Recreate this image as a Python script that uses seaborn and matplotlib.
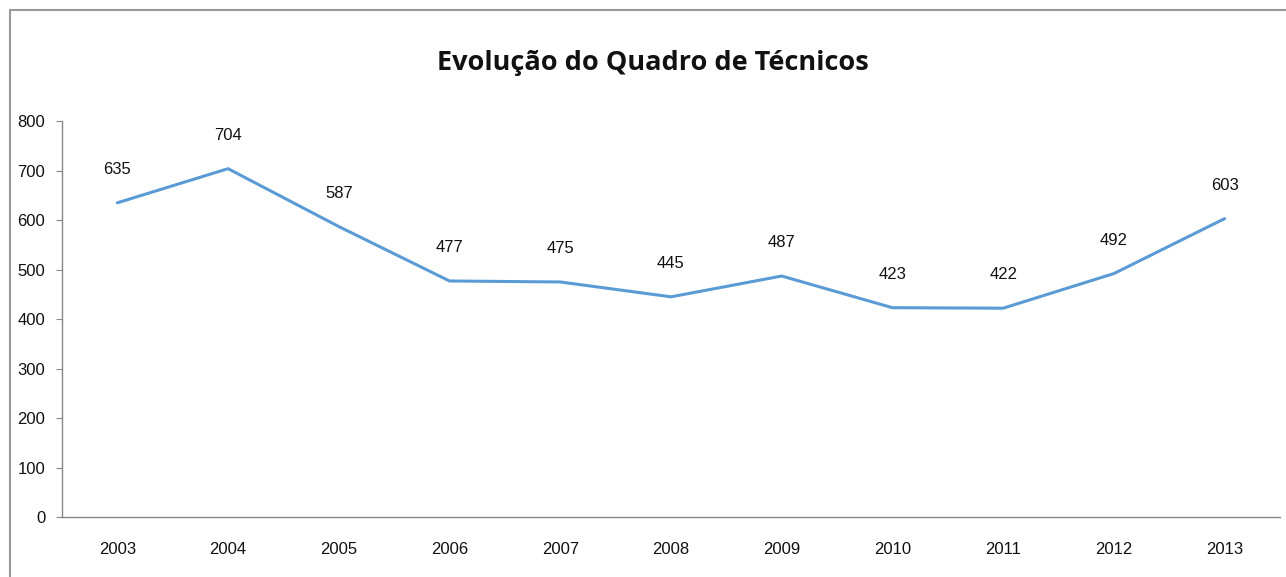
import matplotlib
matplotlib.use("Agg")
import matplotlib.pyplot as plt
import seaborn as sns
import pandas as pd
from matplotlib.lines import Line2D

# dados do grafico
anos = ["2003", "2004", "2005", "2006", "2007", "2008", "2009", "2010", "2011", "2012", "2013"]
tecnicos = [635, 704, 587, 477, 475, 445, 487, 423, 422, 492, 603]
titulo = "Evolução do Quadro de Técnicos"

df = pd.DataFrame({"ano": anos, "tecnicos": tecnicos})

sns.set_style("white")
plt.rcParams["font.family"] = ["Liberation Sans", "DejaVu Sans"]

fig = plt.figure(figsize=(12.86, 5.77), dpi=100)
ax = fig.add_axes([0.0482, 0.104, 0.9471, 0.686])

sns.lineplot(ax=ax, data=df, x="ano", y="tecnicos", color="#5B9BD5", linewidth=2.2)

# rotulos dos valores
for i, v in enumerate(tecnicos):
    ax.annotate(str(v), (i, v), xytext=(0, 24), textcoords="offset points",
                ha="center", va="center", fontsize=12, color="#111111")

ax.set_xlim(-0.5, len(anos) - 0.5)
ax.set_ylim(0, 800)
ax.set_yticks(range(0, 801, 100))
ax.set_xticks(range(len(anos)))
ax.set_xticklabels(anos)
ax.set_xticks([i - 0.5 for i in range(len(anos) + 1)], minor=True)
ax.tick_params(axis="x", which="major", length=0, pad=18, labelsize=12, labelcolor="#111111")
ax.tick_params(axis="x", which="minor", length=4, color="#888888", direction="out")
ax.tick_params(axis="y", length=4, color="#888888", direction="out", pad=8, labelsize=12,
               labelcolor="#111111", left=True)
ax.set_xlabel("")
ax.set_ylabel("")

for s in ["top", "right"]:
    ax.spines[s].set_visible(False)
for s in ["left", "bottom"]:
    ax.spines[s].set_color("#888888")
    ax.spines[s].set_linewidth(1)

fig.text(0.508, 0.89, titulo, ha="center", va="center", fontsize=19.5, fontweight="bold",
         color="#111111", family=["Open Sans", "DejaVu Sans"])

# moldura do grafico
fig.add_artist(Line2D([10 / 1286, 10 / 1286], [0, 1 - 10 / 577], color="#999999", linewidth=1.5))
fig.add_artist(Line2D([10 / 1286, 1], [1 - 10 / 577, 1 - 10 / 577], color="#999999", linewidth=1.5))

plt.savefig("out.png", dpi=100)
